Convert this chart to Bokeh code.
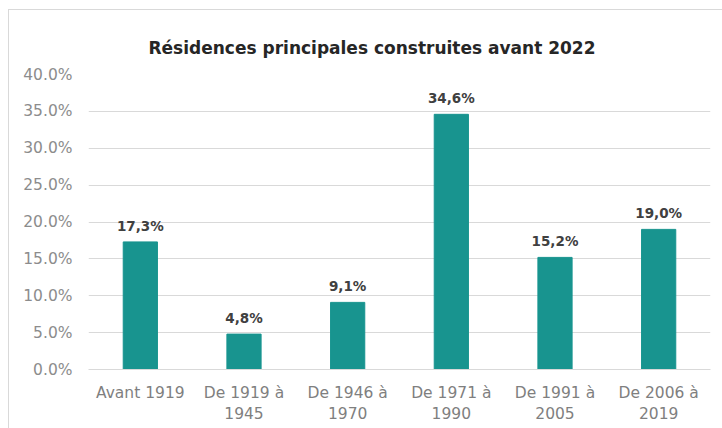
from bokeh.plotting import figure
from bokeh.models import ColumnDataSource, FixedTicker
from bokeh.core.properties import value
from bokeh.embed import file_html
from bokeh.resources import INLINE

categories = ["Avant 1919", "De 1919 à\n1945", "De 1946 à\n1970", "De 1971 à\n1990", "De 1991 à\n2005", "De 2006 à\n2019"]
values = [17.3, 4.8, 9.1, 34.6, 15.2, 19.0]
labels = ["17,3%", "4,8%", "9,1%", "34,6%", "15,2%", "19,0%"]
yticks = [0, 5, 10, 15, 20, 25, 30, 35, 40]
ytick_labels = ["0.0%", "5.0%", "10.0%", "15.0%", "20.0%", "25.0%", "30.0%", "35.0%", "40.0%"]

FONT = "DejaVu Sans"

src = ColumnDataSource(dict(cat=categories, val=values, lab=labels))

p = figure(x_range=categories, y_range=(0, 40), width=722, height=428,
           output_backend="svg", toolbar_location=None,
           min_border_left=88, min_border_right=12, min_border_top=74, min_border_bottom=59)
p.styles = {"box-shadow": "inset 8px 9px 0 #ffffff, inset 9px 10px 0 #d9d9d9"}
p.background_fill_color = None
p.border_fill_color = None

p.title.text = "Résidences principales construites avant 2022"
p.title.align = "left"
p.title.text_font = FONT
p.title.text_font_size = "17px"
p.title.text_font_style = "bold"
p.title.text_color = "#262626"
p.title.offset = 60
p.title.standoff = 34

p.vbar(x="cat", top="val", width=0.33, source=src, color="#18948f")
p.text(x="cat", y="val", text="lab", source=src, text_align="center", text_baseline="bottom",
       y_offset=-8, text_font=value(FONT), text_font_size="13.5px", text_font_style="bold",
       text_color="#404040")

p.outline_line_color = None
p.xgrid.grid_line_color = None
p.ygrid.grid_line_color = "#d9d9d9"
p.yaxis.ticker = FixedTicker(ticks=yticks)
p.yaxis.major_label_overrides = {t: l for t, l in zip(yticks, ytick_labels)}
for ax in (p.xaxis, p.yaxis):
    ax.axis_line_color = None
    ax.major_tick_line_color = None
    ax.minor_tick_line_color = None
    ax.major_label_text_font = FONT
p.yaxis.major_label_text_color = "#8c8c8c"
p.xaxis.major_label_text_color = "#7f7f7f"
p.yaxis.major_label_text_font_size = "15.5px"
p.xaxis.major_label_text_font_size = "15.5px"
p.xaxis.axis_line_color = "#d9d9d9"
p.xaxis.major_label_standoff = 8
p.yaxis.major_label_standoff = 10
p.x_range.range_padding = 0

open("out.html", "w").write(file_html(p, INLINE))
